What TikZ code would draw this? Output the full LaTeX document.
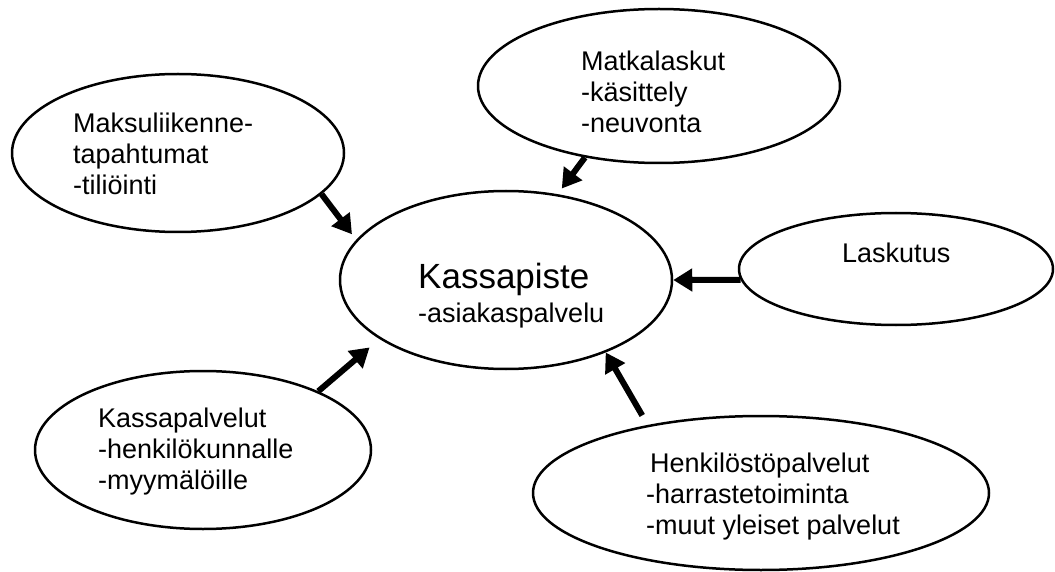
\documentclass[tikz,border=0pt]{standalone}
\usepackage{fontspec}
\setmainfont{Liberation Sans}
\usetikzlibrary{shapes.geometric,arrows.meta}

\begin{document}
\begin{tikzpicture}[x=1pt, y=-1pt, line join=round,
  oval/.style={draw, ellipse, line width=2.5pt, inner sep=0},
  txt/.style={anchor=north west, align=left, inner sep=0, font=\fontsize{27}{31}\selectfont},
  flow/.style={line width=6pt, -{Triangle[width=22pt,length=19pt]}}]

\useasboundingbox (0,0) rectangle (1055,572);

\node (kassapiste) at (506,280) [oval, minimum width=332pt, minimum height=178pt] {};
\node (maksu) at (178,153) [oval, minimum width=332pt, minimum height=158pt] {};
\node (matka) at (659,86) [oval, minimum width=362pt, minimum height=154pt] {};
\node (lasku) at (896,269) [oval, minimum width=314pt, minimum height=112pt] {};
\node (kassa_pal) at (203,450) [oval, minimum width=336pt, minimum height=158pt] {};
\node (henk) at (761,493) [oval, minimum width=456pt, minimum height=154pt] {};

\node (kassapiste_otsikko) at (418,263) [anchor=north west, inner sep=0, font=\fontsize{35}{40}\selectfont] {Kassapiste};
\node (kassapiste_txt) at (418,302.5) [txt] {-asiakaspalvelu};
\node (maksu_txt) at (73,113) [txt] {Maksuliikenne-\\tapahtumat\\-tiliöinti};
\node (matka_txt) at (581,51) [txt] {Matkalaskut\\-käsittely\\-neuvonta};
\node (lasku_txt) at (842,242.5) [txt] {Laskutus};
\node (kassa_pal_txt) at (98,407.5) [txt] {Kassapalvelut\\-henkilökunnalle\\-myymälöille};
\node (henk_txt) at (646,452.5) [txt] {\hspace*{4pt}Henkilöstöpalvelut\\-harrastetoiminta\\-muut yleiset palvelut};

\draw[flow, shorten >=7pt] (maksu.-16) -- (kassapiste.165);
\draw[flow, shorten >=7pt] (matka.224) -- (kassapiste.59);
\draw[flow] (lasku.184) -- (kassapiste.0);
\draw[flow, shorten >=13pt] (kassa_pal.27) -- (kassapiste.205);
\draw[flow, shorten <=11pt] (henk.149) -- (kassapiste.-36);

\end{tikzpicture}
\end{document}
